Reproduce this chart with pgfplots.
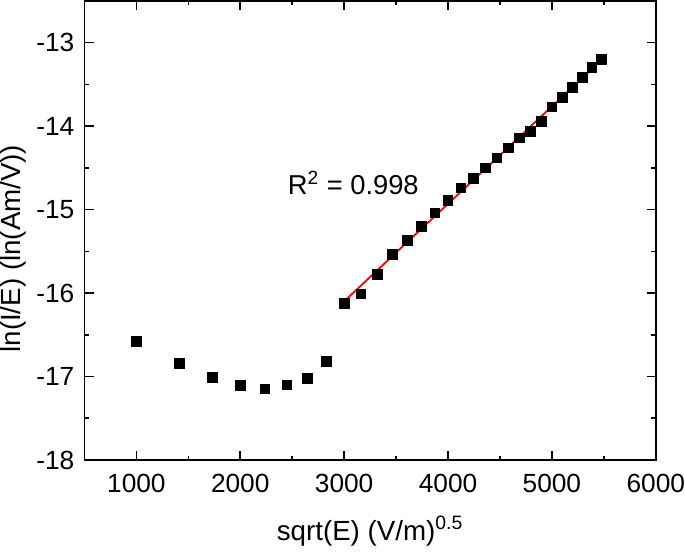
\documentclass[border=0pt]{standalone}
\usepackage{pgfplots}
\pgfplotsset{compat=1.18}
\usepackage{fontspec}
\setmainfont{Liberation Sans}
\begin{document}
\begin{tikzpicture}
\begin{axis}[
  scale only axis,
  width=282.5pt, height=227pt,
  xmin=500, xmax=6000,
  ymin=-18, ymax=-12.5,
  xtick={1000,2000,3000,4000,5000,6000},
  ytick={-18,-17,-16,-15,-14,-13},
  minor x tick num=1,
  minor y tick num=1,
  tick align=inside,
  major tick length=4.5pt,
  minor tick length=2.2pt,
  axis line style={line width=0.9pt},
  every tick/.style={line width=0.8pt, black},
  /pgf/number format/assume math mode=true,
  /pgf/number format/1000 sep={},
  scaled x ticks=false,
  tick label style={font=\fontsize{13}{15}\selectfont, inner sep=0pt},
  xticklabel style={yshift=-6.8pt},
  yticklabel style={xshift=-4.8pt},
  label style={font=\fontsize{13.7}{16}\selectfont},
  xlabel={sqrt(E) (V/m)\textsuperscript{0.5}},
  ylabel={ln(I/E) (ln(Am/V))},
  xlabel style={inner xsep=0pt, inner ysep=4pt, yshift=-7.5pt},
  ylabel style={inner sep=0pt, xshift=-9pt, yshift=5pt},
]
\addplot[only marks, mark=square*, mark size=2.4pt, black] coordinates {
(1000,-16.58) (1414,-16.84) (1732,-17.01) (2000,-17.11) (2236,-17.15)
(2449,-17.10) (2646,-17.02) (2828,-16.82) (3000,-16.12) (3162,-16.01)
(3317,-15.78) (3464,-15.54) (3606,-15.37) (3742,-15.20) (3873,-15.04)
(4000,-14.89) (4123,-14.74) (4243,-14.63) (4359,-14.50) (4472,-14.38)
(4583,-14.26) (4690,-14.14) (4796,-14.06) (4899,-13.94) (5000,-13.77)
(5099,-13.66) (5196,-13.54) (5292,-13.42) (5385,-13.30) (5477,-13.20)
};
\addplot[red, line width=0.9pt] coordinates {(3000,-16.10) (5440,-13.25)};
\node[anchor=west, font=\fontsize{13.5}{16}\selectfont] at (axis cs:2390,-14.68) {R\textsuperscript{2} = 0.998};
\end{axis}
\end{tikzpicture}
\end{document}
